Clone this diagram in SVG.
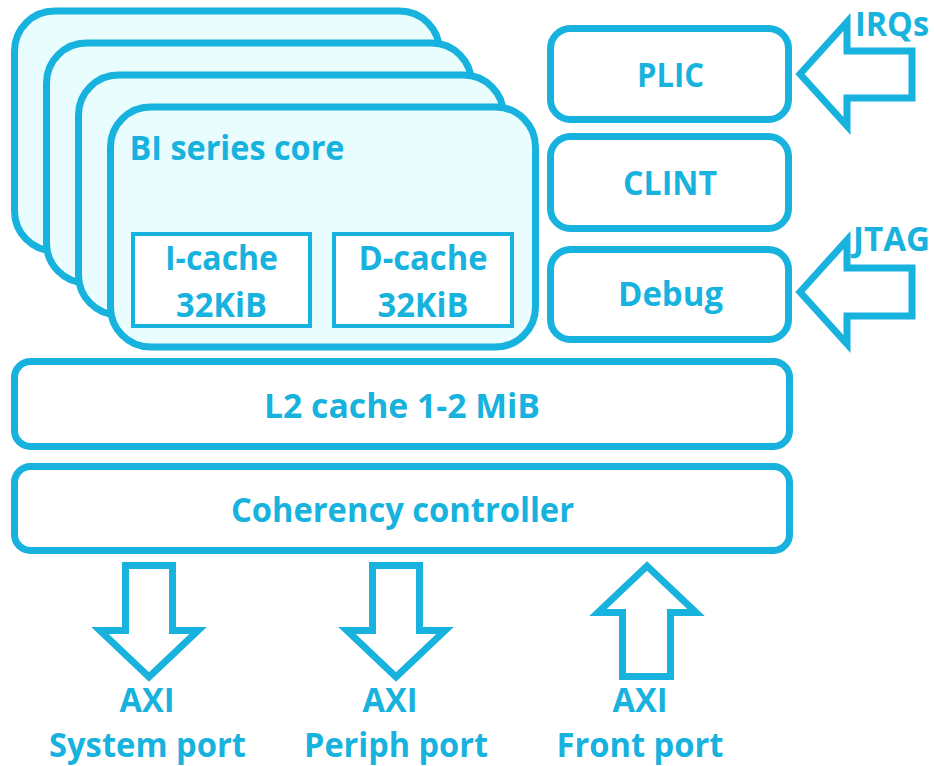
<svg xmlns="http://www.w3.org/2000/svg" width="934" height="766" viewBox="0 0 934 766">
  <style>
    .card { fill: #E9FCFE; stroke: #17B2DD; stroke-width: 7; }
    .box { fill: #FFFFFF; stroke: #17B2DD; stroke-width: 7; }
    .cache { fill: #FFFFFF; stroke: #17B2DD; stroke-width: 4; }
    .arrow { fill: #FFFFFF; stroke: #17B2DD; stroke-width: 7; stroke-linejoin: miter; stroke-miterlimit: 10; }
    text { font-family: "Open Sans", "Liberation Sans", sans-serif; font-weight: 700; font-size: 34px; fill: #17B2DD; }
    .c { text-anchor: middle; }
  </style>

  <!-- stacked cores, back to front -->
  <g id="core-3">
    <rect class="card" x="14.5" y="11" width="425" height="240" rx="40"/>
  </g>
  <g id="core-2">
    <rect class="card" x="46.5" y="43" width="425" height="240" rx="40"/>
  </g>
  <g id="core-1">
    <rect class="card" x="78.5" y="75" width="425" height="240" rx="40"/>
  </g>
  <g id="core-0">
    <rect class="card" x="110.5" y="107" width="425" height="240" rx="40"/>
    <text x="129.5" y="160" textLength="215" lengthAdjust="spacingAndGlyphs">BI series core</text>
  </g>
  <g id="icache">
    <rect class="cache" x="133" y="234" width="177" height="92"/>
    <text class="c" x="221.5" y="270" textLength="113" lengthAdjust="spacingAndGlyphs">I-cache</text>
    <text class="c" x="221.5" y="317" textLength="91" lengthAdjust="spacingAndGlyphs">32KiB</text>
  </g>
  <g id="dcache">
    <rect class="cache" x="334" y="234" width="178" height="92"/>
    <text class="c" x="423" y="270" textLength="129" lengthAdjust="spacingAndGlyphs">D-cache</text>
    <text class="c" x="423" y="317" textLength="91" lengthAdjust="spacingAndGlyphs">32KiB</text>
  </g>

  <!-- uncore blocks -->
  <g id="plic">
    <rect class="box" x="550.5" y="28.5" width="238" height="91" rx="20"/>
    <text class="c" x="670.5" y="87" textLength="67" lengthAdjust="spacingAndGlyphs">PLIC</text>
  </g>
  <g id="clint">
    <rect class="box" x="550.5" y="136.5" width="238" height="92" rx="20"/>
    <text class="c" x="670" y="195" textLength="94" lengthAdjust="spacingAndGlyphs">CLINT</text>
  </g>
  <g id="debug">
    <rect class="box" x="550.5" y="249.5" width="238" height="90" rx="20"/>
    <text class="c" x="670.5" y="306" textLength="105" lengthAdjust="spacingAndGlyphs">Debug</text>
  </g>
  <g id="l2">
    <rect class="box" x="14.5" y="361.5" width="775" height="85" rx="16"/>
    <text class="c" x="402" y="418" textLength="276" lengthAdjust="spacingAndGlyphs">L2 cache 1-2 MiB</text>
  </g>
  <g id="coherency">
    <rect class="box" x="14.5" y="466.5" width="775" height="84" rx="16"/>
    <text class="c" x="402.5" y="522" textLength="343" lengthAdjust="spacingAndGlyphs">Coherency controller</text>
  </g>

  <!-- block arrows for external interfaces -->
  <g id="connectors">
    <polygon class="arrow" points="800,74 847,22 847,51 912,51 912,98 847,98 847,126"/>
    <polygon class="arrow" points="800,292 847,240 847,268 912,268 912,316 847,316 847,344"/>
    <polygon class="arrow" points="125.5,565.5 172.5,565.5 172.5,630.5 198,630.5 149,677 100,630.5 125.5,630.5"/>
    <polygon class="arrow" points="372.5,565.5 419.5,565.5 419.5,630.5 445,630.5 396,677 347,630.5 372.5,630.5"/>
    <polygon class="arrow" points="647,566 696,612.5 670.5,612.5 670.5,676.5 622.5,676.5 622.5,612.5 598,612.5"/>
  </g>

  <!-- interface labels -->
  <g id="labels">
    <text x="855" y="36" textLength="74" lengthAdjust="spacingAndGlyphs">IRQs</text>
    <text x="853" y="251" textLength="77" lengthAdjust="spacingAndGlyphs">JTAG</text>
    <text class="c" x="147" y="712" textLength="55" lengthAdjust="spacingAndGlyphs">AXI</text>
    <text class="c" x="147.5" y="757" textLength="197" lengthAdjust="spacingAndGlyphs">System port</text>
    <text class="c" x="390" y="712" textLength="55" lengthAdjust="spacingAndGlyphs">AXI</text>
    <text class="c" x="396" y="757" textLength="184" lengthAdjust="spacingAndGlyphs">Periph port</text>
    <text class="c" x="640" y="712" textLength="55" lengthAdjust="spacingAndGlyphs">AXI</text>
    <text class="c" x="640" y="757" textLength="167" lengthAdjust="spacingAndGlyphs">Front port</text>
  </g>
</svg>
